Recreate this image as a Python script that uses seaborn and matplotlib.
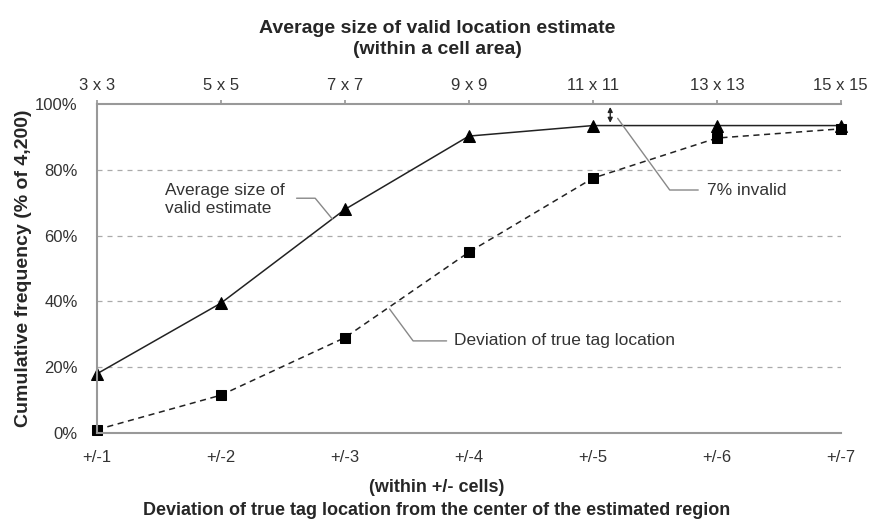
import pandas as pd
import matplotlib.pyplot as plt
import seaborn as sns
from matplotlib import font_manager

# Data
deviation = [1, 2, 3, 4, 5, 6, 7]
bottom_labels = ["+/-1", "+/-2", "+/-3", "+/-4", "+/-5", "+/-6", "+/-7"]
top_labels = ["3 x 3", "5 x 5", "7 x 7", "9 x 9", "11 x 11", "13 x 13", "15 x 15"]
valid_size = [18, 39.5, 68, 90.3, 93.5, 93.5, 93.5]
true_dev = [1, 11.5, 29, 55, 77.5, 89.7, 92.5]

df = pd.DataFrame({"dev": deviation, "valid": valid_size, "true": true_dev})

sns.set_theme(style="white")
installed = {f.name for f in font_manager.fontManager.ttflist}
narrow = "Liberation Sans Narrow" if "Liberation Sans Narrow" in installed else "Liberation Sans"
plt.rcParams["font.family"] = [narrow, "DejaVu Sans"]

fig = plt.figure(figsize=(8.74, 5.21), dpi=100)
ax = fig.add_axes([0.111, 0.169, 0.851, 0.631])

sns.lineplot(data=df, x="dev", y="valid", ax=ax, color="#222222", lw=1.1, clip_on=False,
             marker="^", markersize=8, markeredgecolor="black", markerfacecolor="black")
sns.lineplot(data=df, x="dev", y="true", ax=ax, color="#222222", lw=1.1, linestyle=(0, (4, 3)),
             clip_on=False, marker="s", markersize=7, markeredgecolor="black", markerfacecolor="black")

ax.set_xlim(1, 7)
ax.set_ylim(0, 100)
ax.set_xticks(deviation)
ax.set_xticklabels(bottom_labels)
ax.set_yticks([0, 20, 40, 60, 80, 100])
ax.set_yticklabels(["0%", "20%", "40%", "60%", "80%", "100%"])
ax.tick_params(axis="x", labelsize=12, colors="#333333", length=4, color="#999999", pad=8)
ax.tick_params(axis="y", labelsize=12, colors="#333333", length=3, color="#999999", pad=11)
for v in [20, 40, 60, 80]:
    ax.axhline(v, color="#aaaaaa", lw=0.9, linestyle=(0, (4, 4)), zorder=0)

for side in ["left", "bottom", "top"]:
    ax.spines[side].set_color("#999999")
    ax.spines[side].set_linewidth(1.5)
ax.spines["right"].set_visible(False)

ax.set_xlabel("")
ax.set_ylabel("Cumulative frequency (% of 4,200)", fontsize=14, fontweight="bold", labelpad=2)

# top axis with area sizes
top = ax.secondary_xaxis("top")
top.set_xticks(deviation)
top.set_xticklabels(top_labels)
top.tick_params(labelsize=12, colors="#333333", length=3, color="#999999", pad=5)
top.spines["top"].set_visible(False)

fig.text(0.5, 0.945, "Average size of valid location estimate", ha="center", va="center",
         fontsize=14, fontweight="bold")
fig.text(0.5, 0.905, "(within a cell area)", ha="center", va="center", fontsize=14, fontweight="bold")
fig.text(0.5, 0.065, "(within +/- cells)", ha="center", va="center", fontsize=13, fontweight="bold")
fig.text(0.5, 0.021, "Deviation of true tag location from the center of the estimated region",
         ha="center", va="center", fontsize=13, fontweight="bold")

# annotations
lc = "#888888"
ax.plot([2.61, 2.76, 2.90], [71.4, 71.4, 65], color=lc, lw=1)
ax.text(1.55, 71.0, "Average size of\nvalid estimate", fontsize=12.5, color="#333333",
        va="center", ha="left", linespacing=1.25)

ax.plot([3.82, 3.55, 3.36], [28, 28, 37.7], color=lc, lw=1)
ax.text(3.88, 28, "Deviation of true tag location", fontsize=12.5, color="#333333",
        va="center", ha="left")

ax.plot([5.85, 5.62, 5.20], [73.9, 73.9, 95.7], color=lc, lw=1)
ax.text(5.92, 73.9, "7% invalid", fontsize=12.5, color="#333333", va="center", ha="left")
ax.annotate("", xy=(5.14, 100), xytext=(5.14, 93.5),
            arrowprops=dict(arrowstyle="<|-|>", color="#222222", lw=1, mutation_scale=7))

fig.savefig("out.png", dpi=100)
